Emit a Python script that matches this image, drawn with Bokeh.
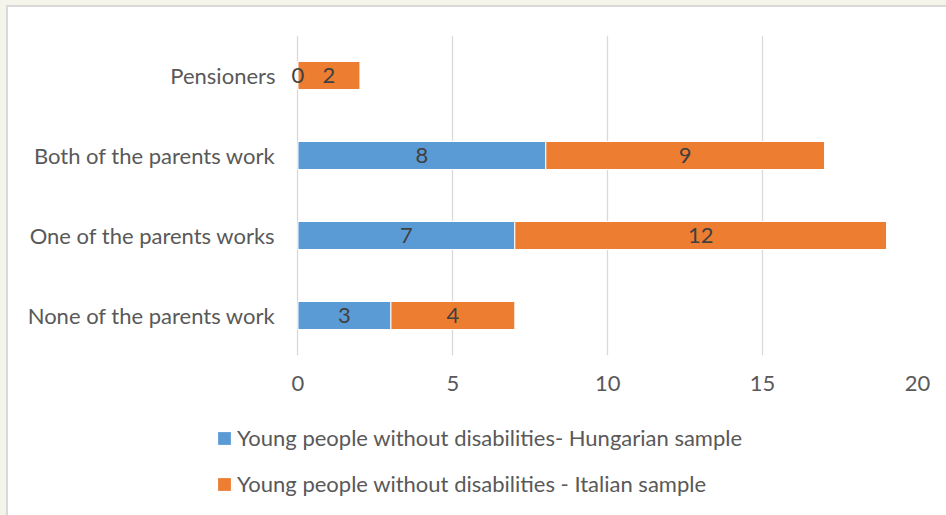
from bokeh.plotting import figure
from bokeh.models import ColumnDataSource, FactorRange, Range1d, Legend, LegendItem, LabelSet, FixedTicker
from bokeh.layouts import column
from bokeh.embed import file_html
from bokeh.resources import INLINE
from bokeh.core.properties import value

categories = ["None of the parents work", "One of the parents works", "Both of the parents work", "Pensioners"]
hungarian = [3, 7, 8, 0]
italian = [4, 12, 9, 2]
series_names = ["Young people without disabilities- Hungarian sample",
                "Young people without disabilities - Italian sample"]
x_ticks = [0, 5, 10, 15, 20]

BLUE = "#5B9BD5"
ORANGE = "#ED7D31"
FONT = "Lato"
FS = "22px"

src = ColumnDataSource(dict(
    cat=categories,
    hu=hungarian,
    it=italian,
    hu_end=hungarian,
    it_start=hungarian,
    it_end=[h + i for h, i in zip(hungarian, italian)],
    hu_mid=[h / 2 for h in hungarian],
    it_mid=[h + i / 2 for h, i in zip(hungarian, italian)],
    hu_lbl=[str(v) for v in hungarian],
    it_lbl=[str(v) for v in italian],
))

p = figure(y_range=FactorRange(*categories, range_padding=0), x_range=Range1d(-0.5, 20),
           frame_width=635, frame_height=320,
           min_border_left=274, min_border_top=28, min_border_right=29, min_border_bottom=52,
           output_backend="svg", toolbar_location=None)
p.frame_align = False
p.outline_line_color = None
p.background_fill_color = "white"
p.border_fill_color = "white"

r1 = p.hbar(y="cat", left=0, right="hu_end", height=0.35, source=src,
            fill_color=BLUE, line_color="white", line_width=1)
r2 = p.hbar(y="cat", left="it_start", right="it_end", height=0.35, source=src,
            fill_color=ORANGE, line_color="white", line_width=1)

for xcol, lcol in (("hu_mid", "hu_lbl"), ("it_mid", "it_lbl")):
    p.add_layout(LabelSet(x=xcol, y="cat", text=lcol, source=src,
                          text_align="center", text_baseline="middle",
                          text_font=value(FONT), text_font_size=value(FS), text_color="#404040"))

p.xgrid.ticker = FixedTicker(ticks=x_ticks)
p.xgrid.grid_line_color = "#d9d9d9"
p.xgrid.grid_line_width = 1.3
p.ygrid.grid_line_color = None

p.xaxis.ticker = FixedTicker(ticks=x_ticks)
p.xaxis.axis_line_color = None
p.xaxis.major_tick_line_color = None
p.xaxis.minor_tick_line_color = None
p.xaxis.major_label_standoff = 14
p.xaxis.major_label_text_font = FONT
p.xaxis.major_label_text_font_size = FS
p.xaxis.major_label_text_color = "#595959"

p.yaxis.axis_line_color = None
p.yaxis.major_tick_line_color = None
p.yaxis.minor_tick_line_color = None
p.yaxis.major_label_standoff = 1
p.yaxis.major_label_text_font = FONT
p.yaxis.major_label_text_font_size = FS
p.yaxis.major_label_text_color = "#595959"

# Legend lives in its own strip below the chart
lg = figure(width=938, height=108, x_range=Range1d(0, 1), y_range=Range1d(0, 1),
            min_border=0, min_border_left=0, min_border_right=0, min_border_top=0, min_border_bottom=0,
            output_backend="svg", toolbar_location=None)
lg.frame_align = False
lg.axis.visible = False
lg.grid.visible = False
lg.outline_line_color = None
lg.background_fill_color = "white"
lg.border_fill_color = "white"
# legend-only renderers, placed outside the visible range
key_src = ColumnDataSource(dict(y=[-10], l=[0], r=[0.1]))
d1 = lg.hbar(y="y", left="l", right="r", height=0.1, source=key_src,
             fill_color=BLUE, line_color=None)
d2 = lg.hbar(y="y", left="l", right="r", height=0.1, source=key_src,
             fill_color=ORANGE, line_color=None)

legend = Legend(items=[LegendItem(label=series_names[0], renderers=[d1]),
                       LegendItem(label=series_names[1], renderers=[d2])],
                location=(208, 18), orientation="vertical",
                glyph_width=16, glyph_height=16, label_standoff=5,
                label_height=27, spacing=19, padding=0, margin=0,
                border_line_color=None, background_fill_alpha=0,
                label_text_font=FONT, label_text_font_size=FS, label_text_color="#595959")
lg.add_layout(legend)

inner = column(p, lg, spacing=0,
               styles={"background-color": "white",
                       "border-left": "2px solid #d9d9d9", "border-top": "2px solid #d9d9d9"})
layout = column(inner, spacing=0,
                styles={"background-color": "#f4f4ea", "padding-top": "5px", "padding-left": "6px"})

open("out.html", "w").write(file_html(layout, INLINE))
